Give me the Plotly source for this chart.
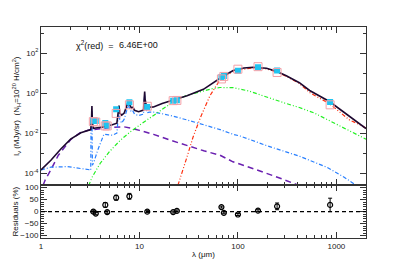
import plotly.graph_objects as go

# ---- model components (wavelength in micron, log10 intensity) ----
tot_lam = [1.0, 1.26, 1.59, 2.0, 2.54, 3.0, 3.2, 3.25, 3.29, 3.33, 3.4, 3.6, 4.2, 5.3, 5.9, 6.1, 6.2, 6.3, 6.6, 7.0, 7.4, 7.7, 8.0, 8.3, 8.6, 8.9, 9.8, 11.0, 11.2, 11.3, 11.4, 11.9, 12.7, 13.9, 17, 23, 30.4, 44.6, 65.8, 70, 89.6, 115, 143, 195, 250, 310, 421, 535, 850, 1360, 2000]
tot_log = [-3.83, -3.35, -2.79, -2.30, -1.98, -1.86, -1.82, -1.5, -0.64, -1.5, -1.76, -1.74, -1.70, -1.58, -1.5, -0.9, -0.62, -1.0, -1.1, -1.0, -0.6, -0.42, -0.6, -0.75, -0.7, -0.86, -0.93, -0.85, -0.2, 0.08, -0.3, -0.77, -0.7, -0.69, -0.52, -0.32, -0.13, 0.19, 0.76, 0.83, 1.13, 1.25, 1.29, 1.24, 1.08, 0.87, 0.52, 0.13, -0.42, -1.17, -1.77]

pur_lam = [1.05, 1.1, 1.26, 1.5, 2.0, 2.5, 3.0, 4.0, 5.5, 6.9, 8.1, 10, 13.9, 20, 30.4, 45, 65.8, 89, 130, 195, 280, 392, 410]
pur_log = [-4.6, -4.35, -3.83, -3.1, -2.32, -1.98, -1.86, -1.78, -1.70, -1.68, -1.74, -1.86, -2.06, -2.33, -2.62, -2.88, -3.1, -3.43, -3.7, -4.0, -4.28, -4.56, -4.62]

blu_lam = [1.0, 1.26, 1.86, 2.54, 3.15, 3.2, 3.22, 3.29, 3.31, 3.33, 3.45, 3.8, 4.36, 5.3, 5.9, 6.1, 6.2, 6.3, 6.6, 7.0, 7.4, 7.7, 8.0, 8.3, 8.6, 8.9, 9.8, 11.0, 11.2, 11.3, 11.4, 11.9, 12.7, 13.9, 16.3, 22, 30.4, 41.6, 65.8, 89.6, 105, 195, 421, 800, 1200, 1590]
blu_log = [-3.83, -3.7, -3.67, -3.75, -3.83, -3.85, -1.9, -0.9, -1.9, -3.6, -3.43, -2.8, -2.05, -2.1, -2.0, -1.3, -0.75, -1.3, -1.5, -1.3, -0.8, -0.6, -0.8, -0.95, -0.9, -1.05, -1.12, -1.05, -0.3, -0.02, -0.4, -0.98, -0.95, -0.95, -1.01, -1.15, -1.34, -1.52, -1.82, -2.06, -2.14, -2.62, -3.15, -3.7, -4.2, -4.6]

grn_lam = [3.05, 3.3, 4.0, 5.0, 6.4, 8.0, 10, 13.9, 18, 23, 30, 41.6, 55, 65.8, 89.6, 130, 195, 300, 421, 600, 1000, 1500, 2000]
grn_log = [-4.62, -4.2, -3.5, -2.9, -2.35, -1.95, -1.6, -1.1, -0.7, -0.37, -0.12, 0.08, 0.22, 0.28, 0.27, 0.1, -0.21, -0.5, -0.72, -1.0, -1.55, -2.0, -2.3]

red_lam = [24.6, 27, 30.4, 35, 41.6, 52, 65, 80, 100, 143, 195, 250, 310, 421, 535, 850, 1360, 1800, 2000]
red_log = [-4.6, -4.0, -3.19, -2.2, -1.22, -0.13, 0.62, 0.97, 1.15, 1.26, 1.21, 1.05, 0.84, 0.48, 0.03, -0.53, -1.34, -1.62, -1.75]

# ---- observations and model band fluxes ----
obs_lam = [3.4, 3.6, 4.5, 4.7, 5.8, 7.9, 12, 22, 24, 68, 72, 100, 160, 250, 864]
obs_val = [0.042, 0.040, 0.032, 0.024, 0.155, 0.35, 0.20, 0.42, 0.44, 6.4, 7.2, 12.9, 19.5, 13.4, 0.355]
mod_val = [0.038, 0.036, 0.023, 0.023, 0.097, 0.26, 0.22, 0.42, 0.43, 5.1, 6.8, 15.6, 20.9, 10.7, 0.26]

# ---- residuals (%) ----
res_val = [0, -8, 28, -2, 58, 64, 0, -2, 3, 19, -5, -12, 4, 22, 28]
res_err = [6, 5, 10, 5, 10, 12, 4, 4, 4, 4, 4, 4, 4, 14, 28]

chi2_text = "6.46E+00"

def lin(v):
    return [10 ** a for a in v]

FONT = "Liberation Sans, Arial, sans-serif"
fig = go.Figure()

fig.add_trace(go.Scatter(x=pur_lam, y=lin(pur_log), mode="lines",
                         line=dict(color="#6a20b0", width=1.5, dash="6px,4px"), xaxis="x", yaxis="y"))
fig.add_trace(go.Scatter(x=blu_lam, y=lin(blu_log), mode="lines",
                         line=dict(color="#2a80ff", width=1.2, dash="4px,2px,1px,2px"), xaxis="x", yaxis="y"))
fig.add_trace(go.Scatter(x=grn_lam, y=lin(grn_log), mode="lines",
                         line=dict(color="#22f022", width=1.2, dash="4px,2px,1px,2px,1px,2px"), xaxis="x", yaxis="y"))
fig.add_trace(go.Scatter(x=red_lam, y=lin(red_log), mode="lines",
                         line=dict(color="#ff3010", width=1.2, dash="4px,2px,1px,2px,1px,2px"), xaxis="x", yaxis="y"))
fig.add_trace(go.Scatter(x=tot_lam, y=lin(tot_log), mode="lines",
                         line=dict(color="#1e0830", width=1.6), xaxis="x", yaxis="y"))
fig.add_trace(go.Scatter(x=obs_lam, y=obs_val, mode="markers",
                         marker=dict(symbol="square", size=6, color="#20c4f0", line=dict(width=0)),
                         xaxis="x", yaxis="y"))
fig.add_trace(go.Scatter(x=obs_lam, y=mod_val, mode="markers",
                         marker=dict(symbol="square-open", size=8, color="#f4a0a8", line=dict(width=1)),
                         xaxis="x", yaxis="y"))

fig.add_trace(go.Scatter(x=obs_lam, y=res_val, mode="markers",
                         marker=dict(symbol="circle-open", size=5, color="black", line=dict(width=1.2)),
                         error_y=dict(type="data", array=res_err, color="black", thickness=1, width=2),
                         xaxis="x2", yaxis="y2"))

fig.add_shape(type="line", xref="x2 domain", yref="y2", x0=0, x1=1, y0=0, y1=0,
              line=dict(color="black", width=1.2, dash="4px,3px"))

minor_x = [m * 10 ** e for e in range(0, 3) for m in range(2, 10)] + [2000]
axcol = "#333333"
common = dict(showgrid=False, zeroline=False, showline=True, linecolor=axcol, linewidth=1,
              ticks="inside", ticklen=6, tickcolor=axcol, mirror="ticks",
              tickfont=dict(family=FONT, size=8, color="#222"))

# the page body has an 8px margin, so the figure is sized/placed to compensate
fig.update_layout(
    width=391, height=255,
    margin=dict(l=32, r=33, t=19, b=20),
    paper_bgcolor="white", plot_bgcolor="white",
    showlegend=False,
    xaxis=dict(type="log", range=[0, 3.301], domain=[0, 1], anchor="y",
               tickvals=[1, 10, 100, 1000], showticklabels=False,
               minor=dict(tickvals=minor_x, ticks="inside", ticklen=3, tickcolor=axcol),
               **common),
    yaxis=dict(type="log", range=[-4.6, 3.3], domain=[0.25, 1], anchor="x",
               tickvals=[1e-4, 1e-2, 1, 1e2],
               ticktext=["10<sup>-4</sup>", "10<sup>-2</sup>", "10<sup>0</sup>", "10<sup>2</sup>"],
               minor=dict(tickvals=[1e-3, 1e-1, 10, 1e3], ticks="inside", ticklen=3, tickcolor=axcol),
               **common),
    xaxis2=dict(type="log", range=[0, 3.301], domain=[0, 1], anchor="y2", matches="x",
                tickvals=[1, 10, 100, 1000], ticktext=["1", "10", "100", "1000"],
                minor=dict(tickvals=minor_x, ticks="inside", ticklen=3, tickcolor=axcol),
                **common),
    yaxis2=dict(range=[-110, 110], domain=[0, 0.25], anchor="x2",
                tickvals=[-100, -50, 0, 50, 100],
                ticktext=["\u2212100", "\u221250", "0", "50", "100"],
                minor=dict(dtick=10, ticks="inside", ticklen=3, tickcolor=axcol),
                **common),
)

ann_font = dict(family=FONT, size=9, color="#111")
fig.add_annotation(text="\u03c7<sup>2</sup>(red)  =", xref="paper", yref="paper",
                   x=0.101, y=0.917, xanchor="left", yanchor="middle", showarrow=False, font=ann_font)
fig.add_annotation(text=chi2_text, xref="paper", yref="paper",
                   x=0.235, y=0.917, xanchor="left", yanchor="middle", showarrow=False, font=ann_font)
fig.add_annotation(text="I<sub>\u03bd</sub> (MJy/sr)  (N<sub>H</sub>=10<sup>20</sup> H/cm<sup>2</sup>)",
                   xref="paper", yref="paper", x=-0.077, y=0.625, textangle=-90,
                   xanchor="center", yanchor="middle", showarrow=False, font=dict(family=FONT, size=8, color="#111"))
fig.add_annotation(text="Residuals (%)", xref="paper", yref="paper", x=-0.077, y=0.125, textangle=-90,
                   xanchor="center", yanchor="middle", showarrow=False, font=dict(family=FONT, size=8, color="#111"))
fig.add_annotation(text="\u03bb (\u03bcm)", xref="paper", yref="paper", x=0.5, y=-0.079,
                   xanchor="center", yanchor="middle", showarrow=False, font=dict(family=FONT, size=8, color="#111"))

fig.write_html("out.html")
